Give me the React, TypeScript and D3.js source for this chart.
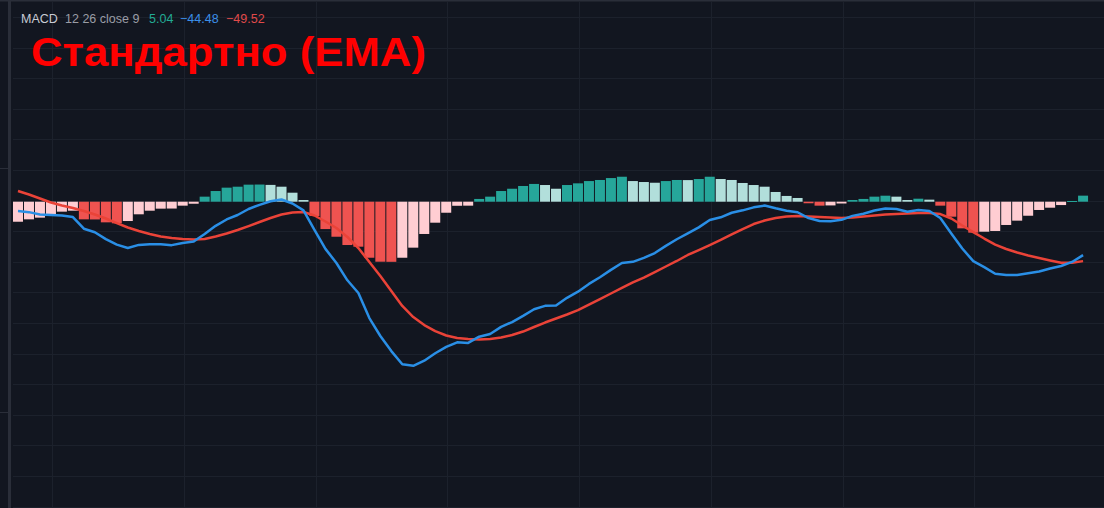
import React from "react";
import * as d3 from "d3";

// ---- data (MACD 12 26 close 9) ----
const bars: number[] = Array.from({ length: 98 }, (_, i) => i);

const histogram: number[] = [
  -16.7, -14.7, -13.3, -10.3, -8.3, -7.5, -14.7, -14.8, -17.2, -18.0,
  -16.1, -10.5, -7.5, -5.8, -5.7, -3.3, -1.7, 4.2, 8.9, 11.7,
  12.5, 14.2, 14.3, 14.0, 12.5, 7.5, 1.4, -11.9, -22.8, -29.2,
  -36.1, -37.5, -46.7, -50.0, -50.1, -46.7, -38.3, -26.9, -17.5, -9.2,
  -3.4, -3.3, 2.3, 4.2, 8.9, 10.8, 13.1, 14.8, 13.9, 10.8,
  13.9, 15.3, 17.2, 18.1, 19.7, 20.8, 17.2, 16.4, 15.8, 17.2,
  18.1, 18.0, 18.9, 20.8, 18.9, 18.1, 15.6, 13.9, 12.5, 8.1,
  4.8, 3.1, -1.3, -3.3, -3.1, -1.5, 1.4, 2.3, 4.2, 5.0,
  4.2, 1.4, 2.5, 1.7, -3.3, -12.5, -22.2, -25.8, -25.0, -24.4,
  -19.4, -15.8, -11.7, -6.9, -5.0, -2.8, 0.6, 5.04,
];
const histogramBefore = -18.5;

const macdLine: number[] = [
  -7.8, -8.7, -10.6, -11.0, -11.5, -12.8, -22.5, -25.5, -31.2, -35.8,
  -38.6, -36.0, -35.4, -35.5, -36.2, -34.4, -33.2, -26.9, -20.1, -14.8,
  -11.1, -6.1, -2.6, 0.4, 1.8, -1.5, -7.2, -23.4, -39.3, -51.1,
  -65.5, -76.1, -97.0, -111.9, -124.5, -135.5, -136.8, -132.5, -126.3, -121.0,
  -117.2, -117.7, -112.5, -110.2, -104.3, -100.3, -95.1, -89.6, -86.8, -86.5,
  -80.1, -75.0, -68.5, -63.0, -56.8, -51.1, -50.1, -46.8, -42.8, -36.8,
  -31.3, -26.4, -21.4, -15.3, -13.0, -9.2, -7.2, -4.7, -3.2, -5.5,
  -7.5, -8.8, -13.6, -16.1, -16.3, -15.1, -11.8, -10.0, -7.3, -5.7,
  -6.1, -8.4, -6.9, -7.7, -13.6, -26.5, -39.0, -49.5, -54.5, -60.0,
  -61.0, -61.0, -59.7, -58.2, -55.7, -53.6, -50.2, -44.48,
];

const signalLine: number[] = [
  8.9, 6.0, 2.7, -0.7, -3.2, -5.3, -7.8, -10.7, -14.0, -17.8,
  -21.5, -24.4, -26.9, -29.0, -30.3, -31.1, -31.5, -31.1, -29.0, -26.5,
  -23.6, -20.3, -16.9, -13.6, -10.7, -9.0, -8.6, -11.5, -16.5, -21.9,
  -29.4, -38.6, -50.3, -61.9, -74.4, -86.9, -96.1, -102.8, -107.8, -111.5,
  -113.6, -114.4, -114.8, -114.4, -113.2, -111.1, -108.2, -104.4, -100.7, -97.3,
  -94.0, -90.3, -85.7, -81.1, -76.5, -71.9, -67.3, -63.2, -58.6, -54.0,
  -49.4, -44.4, -40.3, -36.1, -31.9, -27.3, -22.8, -18.6, -15.7, -13.6,
  -12.3, -11.9, -12.3, -12.8, -13.2, -13.6, -13.2, -12.3, -11.5, -10.7,
  -10.3, -9.8, -9.4, -9.4, -10.3, -14.0, -19.8, -25.3, -30.7, -35.7,
  -39.4, -42.3, -44.8, -46.9, -49.0, -50.95, -50.8, -49.52,
];

const legendName = "MACD";
const legendParams = "12 26 close 9";
const legendHist = "5.04";
const legendMacd = "\u221244.48";
const legendSignal = "\u221249.52";
const title = "Стандартно (EMA)";

// ---- layout ----
const W = 1104;
const H = 508;
const BG = "#121620";
const GRID = "#1c212c";
const BORDER = "#2a2e39";
const COL = {
  growAbove: "#26a69a",
  fallAbove: "#b2dfdb",
  growBelow: "#ffcdd2",
  fallBelow: "#ef5350",
  macd: "#2a8fe6",
  signal: "#ea4338",
};

const x = d3.scaleLinear().domain([0, 97]).range([18, 18 + 97 * 10.98]);
const y = d3.scaleLinear().domain([0, -100]).range([201.7, 321.7]);
const barW = 10;

const hGridValues = d3.range(-254.1, 160, 25.5);
const vGridIdx = d3.range(3.1, 100, 12);

function histColor(i: number): string {
  const v = histogram[i];
  const p = i > 0 ? histogram[i - 1] : histogramBefore;
  if (v >= 0) return p < v ? COL.growAbove : COL.fallAbove;
  return p < v ? COL.growBelow : COL.fallBelow;
}

export default function App() {
  const lineGen = (vals: number[]) =>
    d3
      .line<number>()
      .x((_, i) => x(i))
      .y((d) => y(d))(vals) || "";

  return (
    <svg
      width={W}
      height={H}
      style={{ position: "absolute", left: 0, top: 0, display: "block" }}
    >
      <rect x={0} y={0} width={W} height={H} fill={BG} />
      {/* grid */}
      {hGridValues.map((v, i) => (
        <line
          key={"h" + i}
          x1={13}
          x2={W}
          y1={Math.round(y(v)) + 0.5}
          y2={Math.round(y(v)) + 0.5}
          stroke={GRID}
          strokeWidth={1}
        />
      ))}
      {vGridIdx.map((v, i) => (
        <line
          key={"v" + i}
          x1={Math.round(x(v)) + 0.5}
          x2={Math.round(x(v)) + 0.5}
          y1={2}
          y2={H}
          stroke={GRID}
          strokeWidth={1}
        />
      ))}
      {/* left strip & borders */}
      <rect x={8} y={0} width={3} height={H} fill={BORDER} />
      <line x1={0} x2={8} y1={168.5} y2={168.5} stroke={BORDER} />
      <line x1={0} x2={8} y1={412.5} y2={412.5} stroke={BORDER} />
      <rect x={0} y={0} width={W} height={1.5} fill={BORDER} />

      {/* histogram */}
      {bars.map((i) => {
        const v = histogram[i];
        const y0 = y(0);
        const y1 = y(v);
        return (
          <rect
            key={"b" + i}
            x={x(i) - barW / 2}
            y={Math.min(y0, y1)}
            width={barW}
            height={Math.max(1, Math.abs(y1 - y0))}
            fill={histColor(i)}
          />
        );
      })}

      {/* lines */}
      <path
        d={lineGen(signalLine)}
        fill="none"
        stroke={COL.signal}
        strokeWidth={2.5}
        strokeLinejoin="round"
      />
      <path
        d={lineGen(macdLine)}
        fill="none"
        stroke={COL.macd}
        strokeWidth={2.5}
        strokeLinejoin="round"
      />

      {/* legend */}
      <text
        y={22.5}
        fontFamily="'Liberation Sans', Arial, sans-serif"
        fontSize={12.5}
      >
        <tspan x={21} fill="#c9ccd4">{legendName}</tspan>
        <tspan x={65} fill="#9a9da6">{legendParams}</tspan>
        <tspan x={149} fill="#22ab94">{legendHist}</tspan>
        <tspan x={180} fill="#3b8fe8">{legendMacd}</tspan>
        <tspan x={226} fill="#e04a4a">{legendSignal}</tspan>
      </text>

      {/* title */}
      <text
        x={31}
        y={65.5}
        fontFamily="'Liberation Sans', Arial, sans-serif"
        fontWeight="bold"
        fontSize={41}
        fill="#ff0000"
        textLength={395}
        lengthAdjust="spacingAndGlyphs"
      >
        {title}
      </text>
    </svg>
  );
}
